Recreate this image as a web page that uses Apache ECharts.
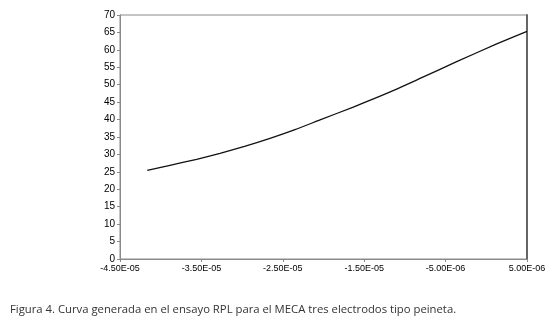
<!DOCTYPE html>
<html>
<head>
<meta charset="utf-8">
<script src="https://cdn.jsdelivr.net/npm/echarts@6/dist/echarts.min.js"></script>
<style>
html,body{margin:0;padding:0;background:#fff;}
#c{width:556px;height:327px;}
</style>
</head>
<body>
<div id="c"></div>
<script>
var xValues = [-4.165e-5, -3.90e-5, -3.558e-5, -3.271e-5, -2.97e-5, -2.657e-5, -2.35e-5, -2.043e-5, -1.634e-5, -1.224e-5, -8.14e-6, -3.64e-6, 1.28e-6, 5.0e-6];
var yValues = [25.4, 26.8, 28.6, 30.3, 32.3, 34.6, 37.1, 39.9, 43.6, 47.5, 51.8, 56.6, 61.7, 65.3];
var yTicks = [0, 5, 10, 15, 20, 25, 30, 35, 40, 45, 50, 55, 60, 65, 70];
var caption = 'Figura 4. Curva generada en el ensayo RPL para el MECA tres electrodos tipo peineta.';

function fmtE(v) {
  var s = v.toExponential(2).toUpperCase();
  var m = s.split('E');
  var exp = parseInt(m[1], 10);
  var a = Math.abs(exp);
  var e = (a < 10 ? '0' : '') + a;
  return m[0] + 'E' + (exp < 0 ? '-' : '') + e;
}

var chart = echarts.init(document.getElementById('c'));
chart.setOption({
  animation: false,
  grid: {left: 120, top: 15, right: 29, bottom: 68, show: true, borderColor: '#8a8a8a', borderWidth: 1},
  xAxis: {
    type: 'value', min: -4.5e-5, max: 5e-6, interval: 1e-5,
    axisLine: {show: true, onZero: false, lineStyle: {color: '#8a8a8a', width: 1}},
    axisTick: {show: true, length: 3, lineStyle: {color: '#8a8a8a'}},
    splitLine: {show: false},
    axisLabel: {color: '#000', fontFamily: 'Liberation Sans, Arial', fontSize: 9, margin: 5,
      formatter: function (v) { return fmtE(Math.round(v * 1e8) / 1e8); }}
  },
  yAxis: [{
    type: 'value', min: yTicks[0], max: yTicks[yTicks.length - 1], interval: 5,
    axisLine: {show: true, onZero: false, lineStyle: {color: '#8a8a8a', width: 1}},
    axisTick: {show: true, length: 3, lineStyle: {color: '#8a8a8a'}},
    splitLine: {show: false},
    axisLabel: {color: '#000', fontFamily: 'Liberation Sans, Arial', fontSize: 10, margin: 5}
  }, {
    type: 'value', min: 0, max: 70, position: 'right',
    axisLine: {show: true, onZero: false, lineStyle: {color: '#666', width: 2}},
    axisTick: {show: false}, axisLabel: {show: false}, splitLine: {show: false}
  }],
  series: [{
    type: 'line', showSymbol: false, smooth: 0.2,
    data: xValues.map(function (x, i) { return [x, yValues[i]]; }),
    lineStyle: {color: '#111', width: 1.3}
  }],
  graphic: [{
    type: 'text', left: 10, top: 304,
    style: {text: caption, fill: '#333', font: '11.3px "Open Sans", "DejaVu Sans", sans-serif'}
  }]
});
</script>
</body>
</html>
